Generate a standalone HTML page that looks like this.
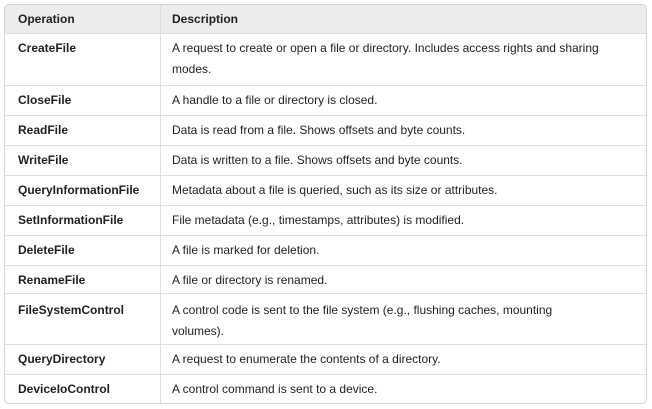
<!DOCTYPE html>
<html><head><meta charset="utf-8"><style>
html,body{margin:0;padding:0;background:#fff;width:652px;height:409px;overflow:hidden}
body{font-family:"Liberation Sans","DejaVu Sans",sans-serif;font-size:12px;color:#1f1f1f}
.t{position:absolute;left:4px;top:4px;width:641px;height:398px;border:1px solid #d4d4d4;border-radius:5px;overflow:hidden}
.r{position:absolute;left:0;width:641px;border-top:1px solid #dedede;box-sizing:border-box}
.c1{position:absolute;left:13px;font-weight:bold}
.c2{position:absolute;left:167px;width:470px;line-height:21px;white-space:nowrap}
.v{position:absolute;left:155px;top:0;width:1px;height:398px;background:#dedede}
.h{background:#ececec;border-top:none}
</style></head><body>
<div class="t">
<div class="r h" style="top:0;height:28px"><span class="c1" style="top:7px">Operation</span><span class="c2" style="top:0;line-height:28px;font-weight:bold">Description</span></div>
<div class="r" style="top:28px;height:52px"><span class="c1" style="top:7px">CreateFile</span><span class="c2" style="top:4px">A request to create or open a file or directory. Includes access rights and sharing<br>modes.</span></div>
<div class="r" style="top:80px;height:30px"><span class="c1" style="top:7px">CloseFile</span><span class="c2" style="top:4px">A handle to a file or directory is closed.</span></div>
<div class="r" style="top:110px;height:30px"><span class="c1" style="top:7px">ReadFile</span><span class="c2" style="top:4px">Data is read from a file. Shows offsets and byte counts.</span></div>
<div class="r" style="top:140px;height:30px"><span class="c1" style="top:7px">WriteFile</span><span class="c2" style="top:4px">Data is written to a file. Shows offsets and byte counts.</span></div>
<div class="r" style="top:170px;height:30px"><span class="c1" style="top:7px">QueryInformationFile</span><span class="c2" style="top:4px">Metadata about a file is queried, such as its size or attributes.</span></div>
<div class="r" style="top:200px;height:30px"><span class="c1" style="top:7px">SetInformationFile</span><span class="c2" style="top:4px">File metadata (e.g., timestamps, attributes) is modified.</span></div>
<div class="r" style="top:230px;height:30px"><span class="c1" style="top:7px">DeleteFile</span><span class="c2" style="top:4px">A file is marked for deletion.</span></div>
<div class="r" style="top:260px;height:30px"><span class="c1" style="top:7px">RenameFile</span><span class="c2" style="top:4px">A file or directory is renamed.</span></div>
<div class="r" style="top:288px;height:51px"><span class="c1" style="top:9px">FileSystemControl</span><span class="c2" style="top:6px">A control code is sent to the file system (e.g., flushing caches, mounting<br>volumes).</span></div>
<div class="r" style="top:339px;height:30px"><span class="c1" style="top:7px">QueryDirectory</span><span class="c2" style="top:4px">A request to enumerate the contents of a directory.</span></div>
<div class="r" style="top:369px;height:30px"><span class="c1" style="top:7px">DeviceIoControl</span><span class="c2" style="top:4px">A control command is sent to a device.</span></div>
<div class="v"></div>
</div>
</body></html>
